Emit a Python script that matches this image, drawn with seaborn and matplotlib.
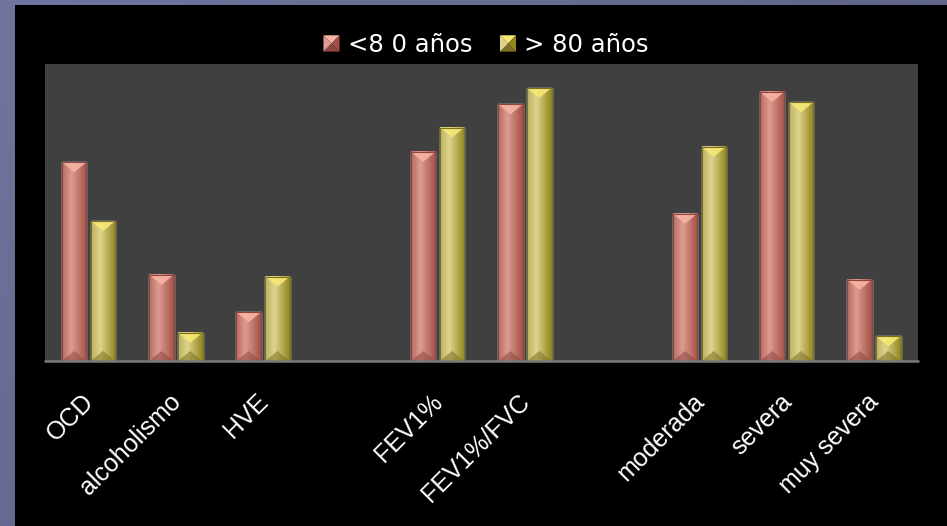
import numpy as np
import pandas as pd
import matplotlib
matplotlib.use("Agg")
import matplotlib.pyplot as plt
import matplotlib.transforms as mtransforms
from matplotlib.patches import Polygon, Rectangle
from matplotlib.legend_handler import HandlerBase
import seaborn as sns

# ---------------- data ----------------
categorias = ["OCD", "alcoholismo", "HVE", "FEV1%", "FEV1%/FVC",
              "moderada", "severa", "muy severa"]
orden = ["OCD", "alcoholismo", "HVE", " ", "FEV1%", "FEV1%/FVC", "  ",
         "moderada", "severa", "muy severa"]
grupos = ["<8 0 años", "> 80 años"]
menores_80 = [66.9, 29.0, 16.4, 70.4, 86.4, 49.6, 90.6, 27.3]
mayores_80 = [47.1, 9.5, 28.4, 78.6, 91.9, 72.1, 87.1, 8.3]

df = pd.DataFrame({
    "categoria": categorias * 2,
    "grupo": [grupos[0]] * len(categorias) + [grupos[1]] * len(categorias),
    "valor": menores_80 + mayores_80,
})

# ---------------- style ----------------
sns.set_style("dark")
plt.rcParams["font.family"] = ["Liberation Sans", "DejaVu Sans"]

base_cols = {grupos[0]: "#d4877c", grupos[1]: "#cbbd5e"}
shade = {
    grupos[0]: dict(left=(0.72, 0.42, 0.38), hi=(0.87, 0.61, 0.57), right=(0.64, 0.32, 0.27),
                    top=(0.97, 0.70, 0.64), bottom=(0.55, 0.28, 0.26), mid=(0.80, 0.50, 0.46)),
    grupos[1]: dict(left=(0.74, 0.70, 0.38), hi=(0.87, 0.83, 0.55), right=(0.57, 0.52, 0.12),
                    top=(0.97, 0.91, 0.45), bottom=(0.48, 0.44, 0.14), mid=(0.78, 0.73, 0.35)),
}

W, H = 947, 526
fig = plt.figure(figsize=(W / 100, H / 100), dpi=100)

# background: blue-grey gradient + black panel
bg = fig.add_axes([0, 0, 1, 1], zorder=-10)
yy, xx = np.mgrid[0:1:200j, 0:1:200j]
t = np.clip(0.6 * xx + 0.4 * yy, 0, 1)
c1 = np.array([0.44, 0.46, 0.62])
c2 = np.array([0.33, 0.35, 0.48])
grad = c1[None, None, :] * (1 - t[..., None]) + c2[None, None, :] * t[..., None]
bg.imshow(grad, extent=[0, 1, 0, 1], aspect="auto", origin="upper")
bg.add_patch(Rectangle((15 / W, 0), 1, 1 - 5 / H, transform=bg.transAxes,
                       facecolor="black", edgecolor="none"))
bg.set_xlim(0, 1)
bg.set_ylim(0, 1)
bg.axis("off")

ax = fig.add_axes([45 / W, (H - 361) / H, (917.5 - 45) / W, (361 - 64) / H])
ax.set_facecolor("#404040")

sns.barplot(data=df, x="categoria", y="valor", hue="grupo", order=orden,
            hue_order=grupos, palette=base_cols, saturation=1, width=0.66, gap=0.15,
            errorbar=None, legend=False, ax=ax)

ax.set_xlim(-0.5, len(orden) - 0.5)
ax.set_ylim(0, 100)

# bevel / gradient shading of each bar
px_per_unit = 297 / 100.0
depth = 10 / px_per_unit
N = 64
xs = np.linspace(0, 1, N)
base_rgb = {g: np.array(matplotlib.colors.to_rgb(c)) for g, c in base_cols.items()}
for p in list(ax.patches):
    h = p.get_height()
    if not np.isfinite(h) or h <= 0:
        continue
    x0, w = p.get_x(), p.get_width()
    fc = np.array(p.get_facecolor()[:3])
    g = min(grupos, key=lambda k: np.sum((base_rgb[k] - fc) ** 2))
    s = shade[g]
    L, HI, R = map(np.array, (s["left"], s["hi"], s["right"]))
    col = np.where(xs[:, None] < 0.38,
                   L + (HI - L) * (xs[:, None] / 0.38),
                   HI + (R - HI) * ((xs[:, None] - 0.38) / 0.62))
    img = np.repeat(col[None, :, :], 2, axis=0)
    z = p.get_zorder()
    ax.imshow(img, extent=[x0, x0 + w, 0, h], aspect="auto",
              interpolation="bilinear", zorder=z + 0.1)
    d = min(depth, h / 2)
    ax.add_patch(Polygon([(x0, h), (x0 + w, h), (x0 + w * 0.5, h - d)],
                         closed=True, facecolor=s["top"], edgecolor="none",
                         alpha=0.9, zorder=z + 0.2))
    ax.add_patch(Polygon([(x0, 0), (x0 + w, 0), (x0 + w * 0.5, d)],
                         closed=True, facecolor=s["bottom"], edgecolor="none",
                         alpha=0.55, zorder=z + 0.2))
    ax.add_patch(Rectangle((x0, 0), w, h, facecolor="none",
                           edgecolor=s["bottom"], lw=0.8, zorder=z + 0.3))

ax.set_xlim(-0.5, len(orden) - 0.5)
ax.set_ylim(0, 100)

for sp in ax.spines.values():
    sp.set_visible(False)
ax.axhline(0, color="#7a7a7a", lw=1.8, zorder=5, clip_on=False)
ax.set_yticks([])
ax.set_xlabel("")
ax.set_ylabel("")
ax.grid(False)
ax.set_xticks(range(len(orden)))
ax.set_xticklabels(orden, rotation=45, ha="right")
ax.tick_params(axis="x", length=0, colors="white", labelsize=18, pad=20)
off = mtransforms.ScaledTranslation(10 / 100, -1 / 100, fig.dpi_scale_trans)
for lbl in ax.get_xticklabels():
    lbl.set_transform(lbl.get_transform() + off)


# legend with pyramid-shaded squares
class PyramidHandler(HandlerBase):
    def __init__(self, s):
        super().__init__()
        self.s = s

    def create_artists(self, legend, orig_handle, xdescent, ydescent,
                       width, height, fontsize, trans):
        x0, y0 = -xdescent, -ydescent
        cx, cy = x0 + width / 2, y0 + height / 2
        s = self.s
        tris = [
            ([(x0, y0 + height), (x0 + width, y0 + height), (cx, cy)], s["top"]),
            ([(x0, y0), (x0 + width, y0), (cx, cy)], s["bottom"]),
            ([(x0, y0), (x0, y0 + height), (cx, cy)], s["hi"]),
            ([(x0 + width, y0), (x0 + width, y0 + height), (cx, cy)], s["right"]),
        ]
        arts = []
        for pts, c in tris:
            pg = Polygon(pts, closed=True, facecolor=c, edgecolor="none",
                         transform=trans)
            arts.append(pg)
        return arts


handles = [Rectangle((0, 0), 1, 1, facecolor=base_cols[g]) for g in grupos]
hmap = {h_: PyramidHandler(shade[g]) for h_, g in zip(handles, grupos)}
fig.legend(handles, grupos, handler_map=hmap, loc="center",
           bbox_to_anchor=(486 / W, 1 - 45 / H), ncol=2, frameon=False,
           prop={"family": ["DejaVu Sans"], "size": 17.5}, labelcolor="white",
           handlelength=0.66, handleheight=0.66, handletextpad=0.33,
           columnspacing=1.15)

fig.savefig("out.png", dpi=100)
